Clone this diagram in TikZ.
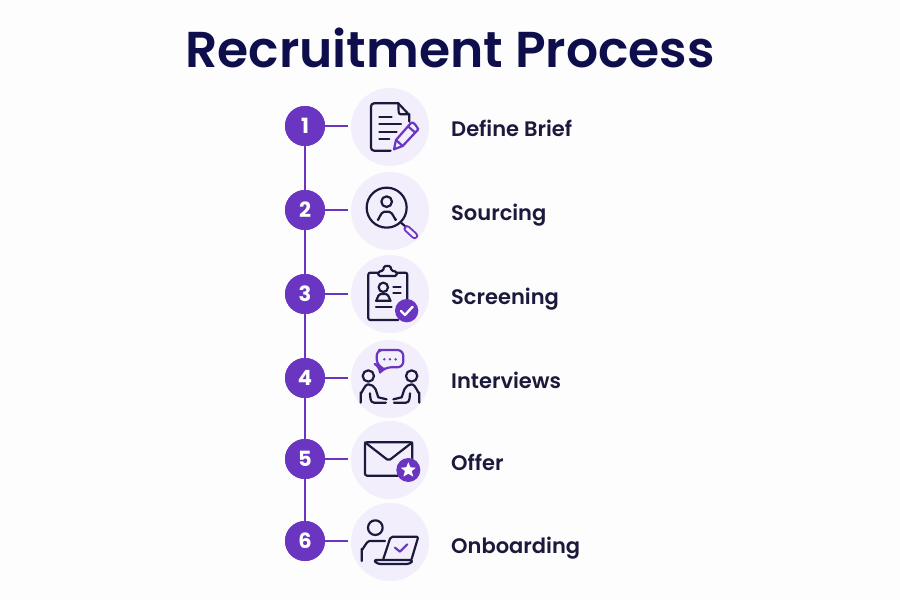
\documentclass[tikz,border=0pt]{standalone}
\usepackage{fontspec}
\setmainfont{Poppins}[BoldFont={* SemiBold}]
\newfontfamily\numfont{Poppins}[UprightFont={* Bold}]
\definecolor{navy}{HTML}{0E0E4C}
\definecolor{ink}{HTML}{1C1A3C}
\definecolor{purp}{HTML}{6A35C0}
\definecolor{pale}{HTML}{F2EEFB}
\definecolor{bgc}{HTML}{FDFDFD}
\tikzset{
 numdot/.style={circle,fill=purp,minimum size=40pt,inner sep=0pt,text=white,font=\numfont\fontsize{21}{21}\selectfont},
 iconbg/.style={circle,fill=pale,minimum size=78pt,inner sep=0pt},
 lbl/.style={anchor=base west,inner sep=0pt,text=ink,font=\bfseries\fontsize{21}{23}\selectfont},
 link/.style={purp,line width=2.2pt},
 blk/.style={ink,line width=2.2pt,line cap=round,line join=round},
 pur/.style={purp,line width=2.2pt,line cap=round,line join=round},
 zoomA/.style={shift={(270,80)},x=.3333pt,y=-.3333pt},
 zoomB/.style={shift={(270,250)},x=.3333pt,y=-.3333pt},
 zoomC/.style={shift={(270,415)},x=.3333pt,y=-.3333pt},
}
\begin{document}
\begin{tikzpicture}[x=1pt,y=-1pt]
\useasboundingbox (0,0) rectangle (900,600);
\fill[bgc] (0,0) rectangle (900,600);
\node[text=navy,font=\bfseries\fontsize{50.4}{54}\selectfont,inner sep=0pt] (title) at (450,48) {Recruitment Process};
\foreach \i/\ny/\iy/\ly/\t in {1/126/127/136/Define Brief,2/210/211/220/Sourcing,3/294/294/304/Screening,4/378/379/388/Interviews,5/459/460/470/Offer,6/541/542/553/Onboarding}{
  \node[iconbg] (ic\i) at (390,\iy) {};
  \node[numdot] (n\i) at (305,\ny) {\i};
  \node[lbl] (l\i) at (451,\ly) {\t};
  \draw[link,shorten >=3pt] (n\i.east) -- (n\i.east -| ic\i.west);
}
\foreach \a/\b in {1/2,2/3,3/4,4/5,5/6}{\draw[link] (n\a) -- (n\b);}
\foreach \i in {1,...,6}{\node[numdot] at (n\i) {\i};}
% icon 1
\begin{scope}[zoomA]
\draw[blk] (418,125) -- (418,105) -- (385,70) -- (312,70) to[out=180,in=90] (303,79) -- (303,203) to[out=-90,in=180] (312,212) -- (362,212);
\draw[blk] (385,70) -- (386,95) to[out=-90,in=180] (392,103) -- (418,103);
\draw[blk] (328,110) -- (365,110) (328,133) -- (393,133) (328,156) -- (380,156) (328,178) -- (358,178);
\draw[pur,fill=pale] (372,208) -- (378,180) -- (422,130) to[out=50,in=120] (445,148) -- (398,198) -- cycle;
\draw[pur] (378,180) -- (398,198) (414,139) -- (436,158);
\end{scope}
% icon 2
\begin{scope}[zoomA]
\draw[blk] (350,383) circle (60);
\draw[blk] (350,365) circle (16);
\draw[blk] (323,418) to[out=-90,in=180] (343,395) -- (357,395) to[out=0,in=-90] (378,418);
\draw[blk] (393,428) -- (407,440);
\draw[purp,line width=7pt,line cap=round] (411,446) -- (434,467);
\draw[pale,line width=3.2pt,line cap=round] (411,446) -- (434,467);
\end{scope}
% icon 3
\begin{scope}[zoomB]
\draw[blk,rounded corners=2pt] (325,68) -- (295,68) -- (295,210) -- (385,210);
\draw[blk,rounded corners=2pt] (380,68) -- (412,68) -- (412,155);
\draw[blk,rounded corners=1.5pt] (325,78) -- (325,65) -- (340,62) -- (342,48) -- (362,48) -- (364,62) -- (380,65) -- (380,78) -- cycle;
\draw[blk] (340,112) circle (14);
\draw[blk] (318,152) to[out=-90,in=180] (332,132) -- (348,132) to[out=0,in=-90] (362,152) -- cycle;
\draw[blk] (370,110) -- (392,110) (370,128) -- (392,128) (318,172) -- (365,172);
\fill[purp] (410,182) circle (35);
\draw[white,line width=2.4pt,line cap=round,line join=round] (393,183) -- (405,195) -- (428,170);
\end{scope}
% icon 4
\begin{scope}[zoomB]
\draw[pur,rounded corners=6pt] (345,300) -- (400,300) -- (400,352) -- (345,352) -- (330,368) -- (330,350) -- (320,345) -- (320,300) -- cycle;
\fill[purp] (343,328) circle (4) (360,328) circle (4) (377,328) circle (4);
\draw[blk] (295,378) circle (17);
\draw[blk] (425,378) circle (17);
\draw[blk] (272,458) -- (272,428) to[out=-90,in=180] (295,403) to[out=0,in=120] (317,418) -- (325,442) -- (350,448);
\draw[blk] (300,430) to[out=-85,in=180] (312,458) -- (348,458);
\draw[blk] (448,458) -- (448,428) to[out=-90,in=0] (425,403) to[out=180,in=60] (403,418) -- (395,442) -- (370,448);
\draw[blk] (420,430) to[out=265,in=0] (408,458) -- (372,458);
\end{scope}
% icon 5
\begin{scope}[zoomC]
\draw[blk,rounded corners=2pt] (385,182) -- (285,182) -- (285,82) -- (427,82) -- (427,130);
\draw[blk,rounded corners=2pt] (285,82) -- (356,137) -- (427,82);
\fill[purp] (415,165) circle (36);
\fill[white,rounded corners=.5pt] (415,141) -- (421,157) -- (438,158) -- (425,168) -- (430,185) -- (415,176) -- (400,185) -- (405,168) -- (392,158) -- (409,157) -- cycle;
\end{scope}
% icon 6
\begin{scope}[zoomC]
\draw[blk] (316,338) circle (22);
\draw[blk] (275,438) -- (275,402) to[out=-90,in=180] (300,378) -- (345,378);
\draw[blk,rounded corners=2pt] (340,432) -- (362,365) -- (445,365) -- (425,432);
\draw[blk,rounded corners=3pt] (310,435) -- (430,435) -- (420,447) -- (322,447) -- cycle;
\draw[pur] (375,398) -- (390,410) -- (412,388);
\end{scope}
\end{tikzpicture}
\end{document}
